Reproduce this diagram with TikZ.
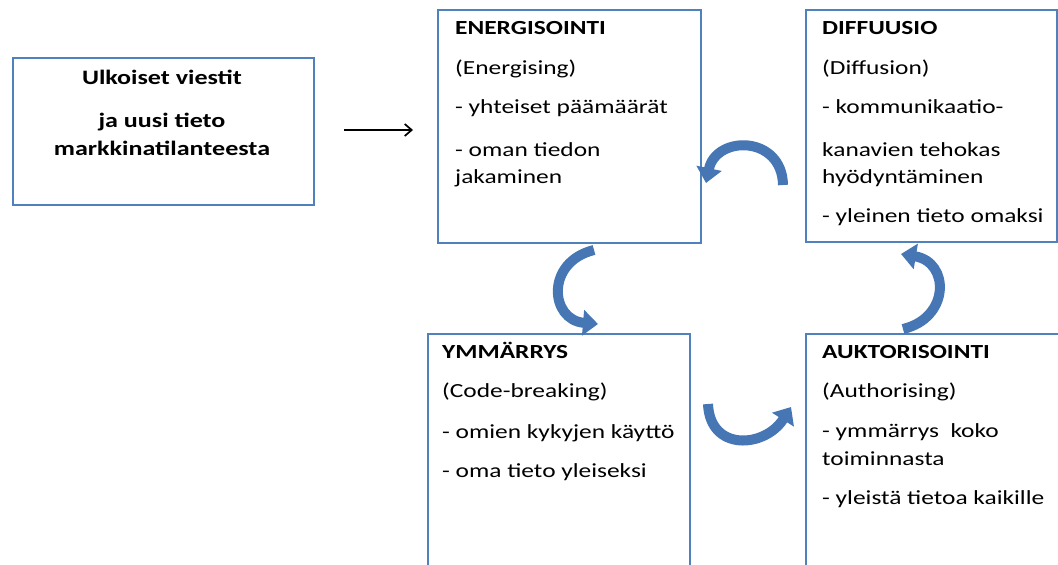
\documentclass[tikz,border=0pt]{standalone}
\usepackage{fontspec}
\setmainfont{Carlito}[FakeStretch=1.27]
\usetikzlibrary{arrows.meta}
\definecolor{boxblue}{RGB}{79,129,189}
\definecolor{arcblue}{RGB}{70,118,180}
\begin{document}
\begin{tikzpicture}[x=1pt,y=-1pt,
  panel/.style={draw=boxblue,line width=2pt,fill=white,anchor=north west,inner sep=0pt},
  txt/.style={anchor=base west,inner sep=0pt,font=\fontsize{20}{24}\selectfont},
  headline/.style={txt,font=\fontsize{20}{24}\selectfont\bfseries},
  ctr/.style={anchor=base,inner sep=0pt,font=\fontsize{20.5}{24}\selectfont\bfseries},
  cyclearrow/.style={draw=arcblue,line width=10pt,-{Triangle[length=15pt,width=25pt]}},
]
\useasboundingbox (0,0) rectangle (1058,565);
\clip (0,0) rectangle (1058,565);

% boxes
\node[panel,minimum width=301pt,minimum height=147pt] (ext) at (12,57) {};
\node[panel,minimum width=263pt,minimum height=233pt] (ener) at (437,9) {};
\node[panel,minimum width=251pt,minimum height=232pt] (diff) at (805,9) {};
\node[panel,minimum width=262pt,minimum height=250pt] (ymm) at (427,333) {};
\node[panel,minimum width=260pt,minimum height=250pt] (auk) at (805,333) {};

% external messages
\node[ctr] (e1) at (162,84) {Ulkoiset viestit};
\node[ctr] (e2) at (162,127) {ja uusi tieto};
\node[ctr] (e3) at (162,155) {markkinatilanteesta};

% energising
\node[headline] (n1) at (455,34) {ENERGISOINTI};
\node[txt] (n2) at (455,74) {(Energising)};
\node[txt] (n3) at (455,113) {- yhteiset päämäärät};
\node[txt] (n4) at (455,156) {- oman tiedon};
\node[txt] (n5) at (455,183) {jakaminen};

% diffusion
\node[headline] (d1) at (822,34) {DIFFUUSIO};
\node[txt] (d2) at (822,74) {(Diffusion)};
\node[txt] (d3) at (822,113) {- kommunikaatio-};
\node[txt] (d4) at (822,156) {kanavien tehokas};
\node[txt] (d5) at (822,183) {hyödyntäminen};
\node[txt] (d6) at (822,222) {- yleinen tieto omaksi};

% code-breaking
\node[headline] (y1) at (442,358) {YMMÄRRYS};
\node[txt] (y2) at (442,397) {(Code-breaking)};
\node[txt] (y3) at (442,438) {- omien kykyjen käyttö};
\node[txt] (y4) at (442,477) {- oma tieto yleiseksi};

% authorising
\node[headline] (a1) at (822,358) {AUKTORISOINTI};
\node[txt] (a2) at (822,397) {(Authorising)};
\node[txt] (a3) at (822,437) {- ymmärrys\ \ koko};
\node[txt] (a4) at (822,465) {toiminnasta};
\node[txt] (a5) at (822,504) {- yleistä tietoa kaikille};

% input arrow
\draw[line width=1.7pt,-{Straight Barb[length=7pt,width=12pt]},shorten <=29pt,shorten >=24pt]
  (ext.east |- 0,130) -- (ener.west |- 0,130);

% cycle arrows
\coordinate (c1s) at (783,185);
\coordinate (c1e) at (706,183);
\draw[cyclearrow] (c1s) .. controls (782,135) and (716,135) .. (c1e);

\coordinate (c2s) at (594,250);
\coordinate (c2e) at (598,324);
\draw[cyclearrow] (c2s) .. controls (545,262) and (550,320) .. (c2e);

\coordinate (c3s) at (903,329);
\coordinate (c3e) at (901,254);
\draw[cyclearrow] (c3s) .. controls (950,318) and (950,262) .. (c3e);

\coordinate (c4s) at (708,404);
\coordinate (c4e) at (791,407);
\draw[cyclearrow] (c4s) .. controls (710,452) and (765,448) .. (c4e);
\end{tikzpicture}
\end{document}
